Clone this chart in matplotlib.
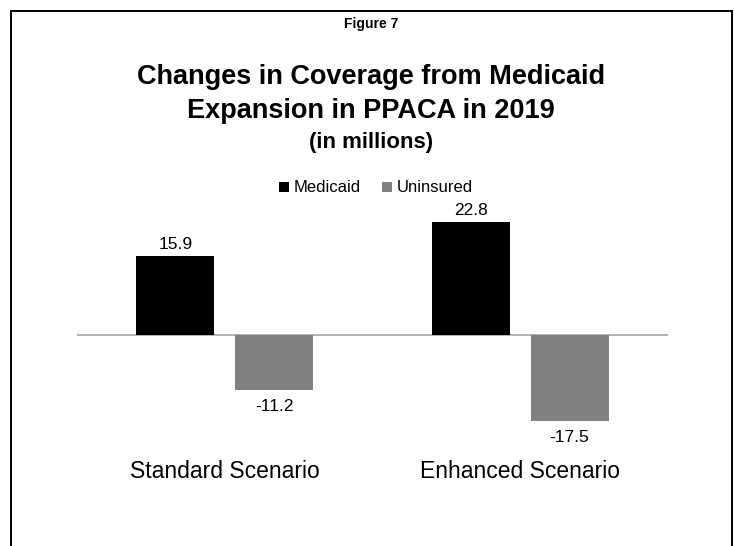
import numpy as np
from matplotlib import pyplot as plt
from matplotlib.lines import Line2D

## chart data
scenarios = ['Standard Scenario', 'Enhanced Scenario']
series_names = ['Medicaid', 'Uninsured']
medicaid = [15.9, 22.8]
uninsured = [-11.2, -17.5]

plt.rcParams['font.family'] = ['Liberation Sans', 'DejaVu Sans']

W, H = 734, 546
fig = plt.figure(figsize=(W / 100, H / 100), dpi=100)

# axes placed in pixel terms: x 77..668, y 187..453 (from top)
ax = fig.add_axes([77 / W, 1 - 452.6 / H, 591 / W, (452.6 - 186.9) / H])

x = np.arange(len(scenarios))
bw = 0.264
off = 0.1668
b1 = ax.bar(x - off, medicaid, bw, color='black', label=series_names[0], zorder=3)
b2 = ax.bar(x + off, uninsured, bw, color='#808080', label=series_names[1], zorder=3)
ax.axhline(0, color='#a6a6a6', lw=1.2, zorder=2)

ax.bar_label(b1, fmt='%.1f', padding=3, fontsize=12.5)
ax.bar_label(b2, fmt='%.1f', padding=6.5, fontsize=12.5)

ax.set_xlim(-0.5, 1.5)
ax.set_ylim(-24, 30)
ax.set_xticks(x)
ax.set_xticklabels(scenarios, fontsize=16.5)
ax.tick_params(axis='x', length=0, pad=5)
ax.set_yticks([])
for s in ax.spines.values():
    s.set_visible(False)

## titles
cx = 371 / W
fig.text(cx, 1 - 28 / H, 'Figure 7', ha='center', va='baseline', fontsize=10, fontweight='bold')
fig.text(cx, 1 - 84.3 / H, 'Changes in Coverage from Medicaid', ha='center', va='baseline',
         fontsize=19.5, fontweight='bold')
fig.text(cx, 1 - 117.7 / H, 'Expansion in PPACA in 2019', ha='center', va='baseline',
         fontsize=19.5, fontweight='bold')
fig.text(cx, 1 - 148 / H, '(in millions)', ha='center', va='baseline', fontsize=16, fontweight='bold')

fig.legend(handles=[b1, b2], loc='center', bbox_to_anchor=(376 / W, 1 - 188 / H), ncol=2,
           frameon=False, fontsize=12, handlelength=0.55, handleheight=0.55,
           handletextpad=0.3, columnspacing=1.3, borderpad=0)

## frame (no bottom edge)
lw = 1.4
fig.add_artist(Line2D([11 / W, 11 / W], [0, 1 - 11 / H], color='black', lw=lw, transform=fig.transFigure))
fig.add_artist(Line2D([11 / W, 732 / W], [1 - 11 / H, 1 - 11 / H], color='black', lw=lw, transform=fig.transFigure))
fig.add_artist(Line2D([732 / W, 732 / W], [0, 1 - 11 / H], color='black', lw=lw, transform=fig.transFigure))

fig.savefig('out.png', dpi=100)
